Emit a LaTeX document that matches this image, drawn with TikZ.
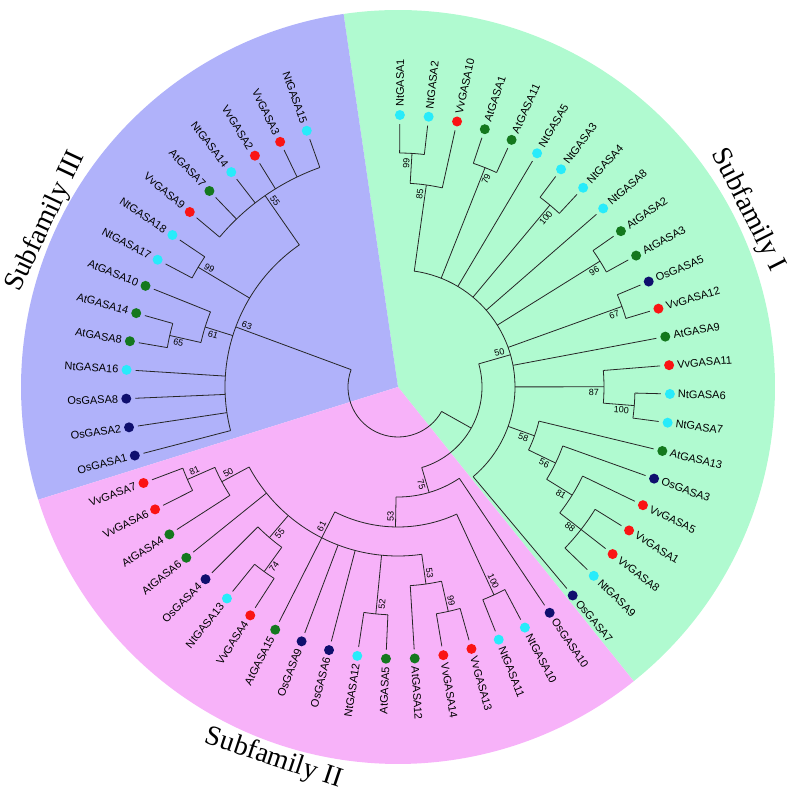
\documentclass[tikz,border=0pt]{standalone}
\usepackage{fontspec}
\setmainfont{Liberation Serif}
\setsansfont{Liberation Sans}
\definecolor{bgI}{RGB}{176,250,208}
\definecolor{bgII}{RGB}{247,178,249}
\definecolor{bgIII}{RGB}{176,178,250}
\definecolor{ntcyan}{RGB}{40,235,250}
\definecolor{vvred}{RGB}{250,20,20}
\definecolor{atgreen}{RGB}{20,120,30}
\definecolor{osnavy}{RGB}{15,15,110}
\newcommand{\leaffont}{\sffamily\fontsize{11}{13}\selectfont}
\newcommand{\bootfont}{\sffamily\fontsize{9}{10}\selectfont}
\newcommand{\clade}[3]{\draw[branch] (#2:#1) arc[start angle=#2, end angle=#3, radius=#1pt];}
\tikzset{
  branch/.style={draw=black!85, line width=0.8pt},
  leaf/.style={circle, minimum size=10pt, inner sep=0pt, outer sep=4pt},
  ntdot/.style={leaf, fill=ntcyan},
  vvdot/.style={leaf, fill=vvred},
  atdot/.style={leaf, fill=atgreen},
  osdot/.style={leaf, fill=osnavy},
  rt/.style={anchor=west, rotate=#1, font=\leaffont, inner sep=0pt},
  lt/.style={anchor=east, rotate=#1+180, font=\leaffont, inner sep=0pt},
  bra/.style={anchor=south east, rotate=#1, font=\bootfont, inner sep=1.8pt},
  brb/.style={anchor=north east, rotate=#1, font=\bootfont, inner sep=1.8pt},
  bla/.style={anchor=south west, rotate=#1+180, font=\bootfont, inner sep=1.8pt},
  blb/.style={anchor=north west, rotate=#1+180, font=\bootfont, inner sep=1.8pt},
  subfam/.style={font=\fontsize{28}{32}\selectfont, inner sep=0pt}
}
\begin{document}
\begin{tikzpicture}[x=1pt, y=1pt]
  \useasboundingbox (-398,-407) rectangle (398,387);
  % sectors
  \fill[bgI] (0,0) -- (-51.3:377) arc[start angle=-51.3, end angle=98.3, radius=377pt] -- cycle;
  \fill[bgIII] (0,0) -- (98.3:377) arc[start angle=98.3, end angle=197.4, radius=377pt] -- cycle;
  \fill[bgII] (0,0) -- (197.4:377) arc[start angle=197.4, end angle=308.7, radius=377pt] -- cycle;
  \node[subfam, rotate=-63.2] (sfI) at (26.8:392) {Subfamily I};
  \node[subfam, rotate=-18.5] (sfII) at (-108.5:392) {Subfamily II};
  \node[subfam, rotate=64.8] (sfIII) at (154.8:389) {Subfamily III};

  % leaves, right half
  \path
    (89.60:272) node[ntdot] (NtGASA1) {} (89.60:280) node[rt=89.60] (tNtGASA1) {NtGASA1}
    (83.53:272) node[ntdot] (NtGASA2) {} (83.53:280) node[rt=83.53] (tNtGASA2) {NtGASA2}
    (77.46:272) node[vvdot] (VvGASA10) {} (77.46:280) node[rt=77.46] (tVvGASA10) {VvGASA10}
    (71.39:272) node[atdot] (AtGASA1) {} (71.39:280) node[rt=71.39] (tAtGASA1) {AtGASA1}
    (65.31:272) node[atdot] (AtGASA11) {} (65.31:280) node[rt=65.31] (tAtGASA11) {AtGASA11}
    (59.24:272) node[ntdot] (NtGASA5) {} (59.24:280) node[rt=59.24] (tNtGASA5) {NtGASA5}
    (53.17:272) node[ntdot] (NtGASA3) {} (53.17:280) node[rt=53.17] (tNtGASA3) {NtGASA3}
    (47.10:272) node[ntdot] (NtGASA4) {} (47.10:280) node[rt=47.10] (tNtGASA4) {NtGASA4}
    (41.03:272) node[ntdot] (NtGASA8) {} (41.03:280) node[rt=41.03] (tNtGASA8) {NtGASA8}
    (34.96:272) node[atdot] (AtGASA2) {} (34.96:280) node[rt=34.96] (tAtGASA2) {AtGASA2}
    (28.89:272) node[atdot] (AtGASA3) {} (28.89:280) node[rt=28.89] (tAtGASA3) {AtGASA3}
    (22.81:272) node[osdot] (OsGASA5) {} (22.81:280) node[rt=22.81] (tOsGASA5) {OsGASA5}
    (16.74:272) node[vvdot] (VvGASA12) {} (16.74:280) node[rt=16.74] (tVvGASA12) {VvGASA12}
    (10.67:272) node[atdot] (AtGASA9) {} (10.67:280) node[rt=10.67] (tAtGASA9) {AtGASA9}
    (4.60:272) node[vvdot] (VvGASA11) {} (4.60:280) node[rt=4.60] (tVvGASA11) {VvGASA11}
    (-1.47:272) node[ntdot] (NtGASA6) {} (-1.47:280) node[rt=-1.47] (tNtGASA6) {NtGASA6}
    (-7.54:272) node[ntdot] (NtGASA7) {} (-7.54:280) node[rt=-7.54] (tNtGASA7) {NtGASA7}
    (-13.61:272) node[atdot] (AtGASA13) {} (-13.61:280) node[rt=-13.61] (tAtGASA13) {AtGASA13}
    (-19.69:272) node[osdot] (OsGASA3) {} (-19.69:280) node[rt=-19.69] (tOsGASA3) {OsGASA3}
    (-25.76:272) node[vvdot] (VvGASA5) {} (-25.76:280) node[rt=-25.76] (tVvGASA5) {VvGASA5}
    (-31.83:272) node[vvdot] (VvGASA1) {} (-31.83:280) node[rt=-31.83] (tVvGASA1) {VvGASA1}
    (-37.90:272) node[vvdot] (VvGASA8) {} (-37.90:280) node[rt=-37.90] (tVvGASA8) {VvGASA8}
    (-43.97:272) node[ntdot] (NtGASA9) {} (-43.97:280) node[rt=-43.97] (tNtGASA9) {NtGASA9}
    (-50.04:272) node[osdot] (OsGASA7) {} (-50.04:280) node[rt=-50.04] (tOsGASA7) {OsGASA7}
    (-56.11:272) node[osdot] (OsGASA10) {} (-56.11:280) node[rt=-56.11] (tOsGASA10) {OsGASA10}
    (-62.19:272) node[ntdot] (NtGASA10) {} (-62.19:280) node[rt=-62.19] (tNtGASA10) {NtGASA10}
    (-68.26:272) node[ntdot] (NtGASA11) {} (-68.26:280) node[rt=-68.26] (tNtGASA11) {NtGASA11}
    (-74.33:272) node[vvdot] (VvGASA13) {} (-74.33:280) node[rt=-74.33] (tVvGASA13) {VvGASA13}
    (-80.40:272) node[vvdot] (VvGASA14) {} (-80.40:280) node[rt=-80.40] (tVvGASA14) {VvGASA14}
    (-86.47:272) node[atdot] (AtGASA12) {} (-86.47:280) node[rt=-86.47] (tAtGASA12) {AtGASA12};
  % leaves, left half
  \path
    (-92.54:272) node[atdot] (AtGASA5) {} (-92.54:280) node[lt=-92.54] (tAtGASA5) {AtGASA5}
    (-98.61:272) node[ntdot] (NtGASA12) {} (-98.61:280) node[lt=-98.61] (tNtGASA12) {NtGASA12}
    (-104.69:272) node[osdot] (OsGASA6) {} (-104.69:280) node[lt=-104.69] (tOsGASA6) {OsGASA6}
    (-110.76:272) node[osdot] (OsGASA9) {} (-110.76:280) node[lt=-110.76] (tOsGASA9) {OsGASA9}
    (-116.83:272) node[atdot] (AtGASA15) {} (-116.83:280) node[lt=-116.83] (tAtGASA15) {AtGASA15}
    (-122.90:272) node[vvdot] (VvGASA4) {} (-122.90:280) node[lt=-122.90] (tVvGASA4) {VvGASA4}
    (-128.97:272) node[ntdot] (NtGASA13) {} (-128.97:280) node[lt=-128.97] (tNtGASA13) {NtGASA13}
    (-135.04:272) node[osdot] (OsGASA4) {} (-135.04:280) node[lt=-135.04] (tOsGASA4) {OsGASA4}
    (-141.11:272) node[atdot] (AtGASA6) {} (-141.11:280) node[lt=-141.11] (tAtGASA6) {AtGASA6}
    (-147.19:272) node[atdot] (AtGASA4) {} (-147.19:280) node[lt=-147.19] (tAtGASA4) {AtGASA4}
    (-153.26:272) node[vvdot] (VvGASA6) {} (-153.26:280) node[lt=-153.26] (tVvGASA6) {VvGASA6}
    (-159.33:272) node[vvdot] (VvGASA7) {} (-159.33:280) node[lt=-159.33] (tVvGASA7) {VvGASA7}
    (194.60:272) node[osdot] (OsGASA1) {} (194.60:280) node[lt=194.60] (tOsGASA1) {OsGASA1}
    (188.53:272) node[osdot] (OsGASA2) {} (188.53:280) node[lt=188.53] (tOsGASA2) {OsGASA2}
    (182.46:272) node[osdot] (OsGASA8) {} (182.46:280) node[lt=182.46] (tOsGASA8) {OsGASA8}
    (176.39:272) node[ntdot] (NtGASA16) {} (176.39:280) node[lt=176.39] (tNtGASA16) {NtGASA16}
    (170.31:272) node[atdot] (AtGASA8) {} (170.31:280) node[lt=170.31] (tAtGASA8) {AtGASA8}
    (164.24:272) node[atdot] (AtGASA14) {} (164.24:280) node[lt=164.24] (tAtGASA14) {AtGASA14}
    (158.17:272) node[atdot] (AtGASA10) {} (158.17:280) node[lt=158.17] (tAtGASA10) {AtGASA10}
    (152.10:272) node[ntdot] (NtGASA17) {} (152.10:280) node[lt=152.10] (tNtGASA17) {NtGASA17}
    (146.03:272) node[ntdot] (NtGASA18) {} (146.03:280) node[lt=146.03] (tNtGASA18) {NtGASA18}
    (139.96:272) node[vvdot] (VvGASA9) {} (139.96:280) node[lt=139.96] (tVvGASA9) {VvGASA9}
    (133.89:272) node[atdot] (AtGASA7) {} (133.89:280) node[lt=133.89] (tAtGASA7) {AtGASA7}
    (127.81:272) node[ntdot] (NtGASA14) {} (127.81:280) node[lt=127.81] (tNtGASA14) {NtGASA14}
    (121.74:272) node[vvdot] (VvGASA2) {} (121.74:280) node[lt=121.74] (tVvGASA2) {VvGASA2}
    (115.67:272) node[vvdot] (VvGASA3) {} (115.67:280) node[lt=115.67] (tVvGASA3) {VvGASA3}
    (109.60:272) node[ntdot] (NtGASA15) {} (109.60:280) node[lt=109.60] (tNtGASA15) {NtGASA15};

  % inner nodes
  \coordinate (n63) at (159.69:173);
  \coordinate (nB) at (-29.29:84);
  \coordinate (n50) at (15.99:117);
  \coordinate (n85) at (82.01:204);
  \coordinate (n99a) at (86.57:234);
  \coordinate (n79) at (68.35:236);
  \coordinate (n100a) at (50.14:237);
  \coordinate (n96) at (31.92:238);
  \coordinate (n67) at (19.78:238);
  \coordinate (n87) at (0.05:206);
  \coordinate (n100b) at (-4.50:237);
  \coordinate (n58) at (-19.68:145);
  \coordinate (n56) at (-25.76:175);
  \coordinate (n81) at (-31.83:205);
  \coordinate (n88) at (-37.90:232);
  \coordinate (n75) at (-73.57:110);
  \coordinate (n53a) at (-91.02:140);
  \coordinate (n100p) at (-65.22:229);
  \coordinate (n61) at (-116.83:169);
  \coordinate (n53b) at (-81.92:199);
  \coordinate (n99p) at (-77.37:230);
  \coordinate (n52) at (-95.58:228);
  \coordinate (n55p) at (-130.49:198);
  \coordinate (n74) at (-125.94:228);
  \coordinate (n50p) at (-151.74:200);
  \coordinate (n81p) at (-156.30:230);
  \coordinate (n55b) at (124.78:233);
  \coordinate (n99b) at (149.07:233);
  \coordinate (n61b) at (162.72:202);
  \coordinate (n65) at (167.28:234);

  % root
  \clade{50}{159.69}{330.71}
  \draw[branch] (159.69:50) -- (n63) (330.71:50) -- (nB);
  \clade{84}{15.99}{-73.57}
  \draw[branch] (15.99:84) -- (n50) (-73.57:84) -- (n75);

  % subfamily I
  \clade{117}{82.01}{-50.04}
  \draw[branch] (82.01:117) -- (n85) (68.35:117) -- (n79) (59.24:117) -- (NtGASA5)
    (50.14:117) -- (n100a) (41.03:117) -- (NtGASA8) (31.92:117) -- (n96)
    (19.78:117) -- (n67) (10.67:117) -- (AtGASA9) (0.05:117) -- (n87)
    (-19.68:117) -- (n58) (-50.04:117) -- (OsGASA7);
  \clade{204}{86.57}{77.46}
  \draw[branch] (86.57:204) -- (n99a) (77.46:204) -- (VvGASA10);
  \clade{234}{89.60}{83.53}
  \draw[branch] (89.60:234) -- (NtGASA1) (83.53:234) -- (NtGASA2);
  \clade{236}{71.39}{65.31}
  \draw[branch] (71.39:236) -- (AtGASA1) (65.31:236) -- (AtGASA11);
  \clade{237}{53.17}{47.10}
  \draw[branch] (53.17:237) -- (NtGASA3) (47.10:237) -- (NtGASA4);
  \clade{238}{34.96}{28.89}
  \draw[branch] (34.96:238) -- (AtGASA2) (28.89:238) -- (AtGASA3);
  \clade{238}{22.81}{16.74}
  \draw[branch] (22.81:238) -- (OsGASA5) (16.74:238) -- (VvGASA12);
  \clade{206}{4.60}{-4.50}
  \draw[branch] (4.60:206) -- (VvGASA11) (-4.50:206) -- (n100b);
  \clade{237}{-1.47}{-7.54}
  \draw[branch] (-1.47:237) -- (NtGASA6) (-7.54:237) -- (NtGASA7);
  \clade{145}{-13.61}{-25.76}
  \draw[branch] (-13.61:145) -- (AtGASA13) (-25.76:145) -- (n56);
  \clade{175}{-19.69}{-31.83}
  \draw[branch] (-19.69:175) -- (OsGASA3) (-31.83:175) -- (n81);
  \clade{205}{-25.76}{-37.90}
  \draw[branch] (-25.76:205) -- (VvGASA5) (-37.90:205) -- (n88);
  \clade{232}{-31.83}{-43.97}
  \draw[branch] (-31.83:232) -- (VvGASA1) (-37.90:232) -- (VvGASA8) (-43.97:232) -- (NtGASA9);

  % subfamily II
  \clade{110}{-56.11}{-91.02}
  \draw[branch] (-56.11:110) -- (OsGASA10) (-91.02:110) -- (n53a);
  \clade{140}{-65.22}{-116.83}
  \draw[branch] (-65.22:140) -- (n100p) (-116.83:140) -- (n61);
  \clade{229}{-62.19}{-68.26}
  \draw[branch] (-62.19:229) -- (NtGASA10) (-68.26:229) -- (NtGASA11);
  \clade{169}{-81.92}{-151.74}
  \draw[branch] (-81.92:169) -- (n53b) (-95.58:169) -- (n52) (-104.69:169) -- (OsGASA6)
    (-110.76:169) -- (OsGASA9) (-116.83:169) -- (AtGASA15) (-130.49:169) -- (n55p)
    (-141.11:169) -- (AtGASA6) (-151.74:169) -- (n50p);
  \clade{199}{-77.37}{-86.47}
  \draw[branch] (-77.37:199) -- (n99p) (-86.47:199) -- (AtGASA12);
  \clade{230}{-74.33}{-80.40}
  \draw[branch] (-74.33:230) -- (VvGASA13) (-80.40:230) -- (VvGASA14);
  \clade{228}{-92.54}{-98.61}
  \draw[branch] (-92.54:228) -- (AtGASA5) (-98.61:228) -- (NtGASA12);
  \clade{198}{-125.94}{-135.04}
  \draw[branch] (-125.94:198) -- (n74) (-135.04:198) -- (OsGASA4);
  \clade{228}{-122.90}{-128.97}
  \draw[branch] (-122.90:228) -- (VvGASA4) (-128.97:228) -- (NtGASA13);
  \clade{200}{-147.19}{-156.30}
  \draw[branch] (-147.19:200) -- (AtGASA4) (-156.30:200) -- (n81p);
  \clade{230}{-153.26}{-159.33}
  \draw[branch] (-153.26:230) -- (VvGASA6) (-159.33:230) -- (VvGASA7);

  % subfamily III
  \clade{173}{124.78}{194.60}
  \draw[branch] (124.78:173) -- (n55b) (149.07:173) -- (n99b) (162.72:173) -- (n61b)
    (176.39:173) -- (NtGASA16) (182.46:173) -- (OsGASA8) (188.53:173) -- (OsGASA2)
    (194.60:173) -- (OsGASA1);
  \clade{233}{109.60}{139.96}
  \draw[branch] (109.60:233) -- (NtGASA15) (115.67:233) -- (VvGASA3) (121.74:233) -- (VvGASA2)
    (127.81:233) -- (NtGASA14) (133.89:233) -- (AtGASA7) (139.96:233) -- (VvGASA9);
  \clade{233}{146.03}{152.10}
  \draw[branch] (146.03:233) -- (NtGASA18) (152.10:233) -- (NtGASA17);
  \clade{202}{158.17}{167.28}
  \draw[branch] (158.17:202) -- (AtGASA10) (167.28:202) -- (n65);
  \clade{234}{164.24}{170.31}
  \draw[branch] (164.24:234) -- (AtGASA14) (170.31:234) -- (AtGASA8);

  % bootstrap values
  \path
    (15.99:114) node[bra=15.99] (b50) {50}
    (82.01:201) node[bra=82.01] (b85) {85}
    (86.57:231) node[bra=86.57] (b99a) {99}
    (68.35:233) node[brb=68.35] (b79) {79}
    (50.14:234) node[brb=50.14] (b100a) {100}
    (31.92:235) node[brb=31.92] (b96) {96}
    (19.78:235) node[brb=19.78] (b67) {67}
    (0.05:203) node[brb=0.05] (b87) {87}
    (-4.50:234) node[brb=-4.50] (b100b) {100}
    (-19.68:142) node[brb=-19.68] (b58) {58}
    (-25.76:172) node[brb=-25.76] (b56) {56}
    (-31.83:202) node[brb=-31.83] (b81) {81}
    (-37.90:229) node[brb=-37.90] (b88) {88}
    (-73.57:107) node[brb=-73.57] (b75) {75}
    (-81.92:196) node[bra=-81.92] (b53b) {53}
    (-77.37:227) node[bra=-77.37] (b99p) {99}
    (-65.22:226) node[bra=-65.22] (b100p) {100}
    (-91.02:137) node[bla=-91.02] (b53a) {53}
    (-116.83:166) node[bla=-116.83] (b61) {61}
    (-151.74:197) node[bla=-151.74] (b50p) {50}
    (-156.30:227) node[bla=-156.30] (b81p) {81}
    (-130.49:195) node[blb=-130.49] (b55p) {55}
    (-125.94:225) node[blb=-125.94] (b74) {74}
    (-95.58:225) node[blb=-95.58] (b52) {52}
    (159.69:170) node[bla=159.69] (b63) {63}
    (124.78:230) node[bla=124.78] (b55b) {55}
    (149.07:230) node[bla=149.07] (b99b) {99}
    (162.72:199) node[blb=162.72] (b61b) {61}
    (167.28:231) node[blb=167.28] (b65) {65};
\end{tikzpicture}
\end{document}
